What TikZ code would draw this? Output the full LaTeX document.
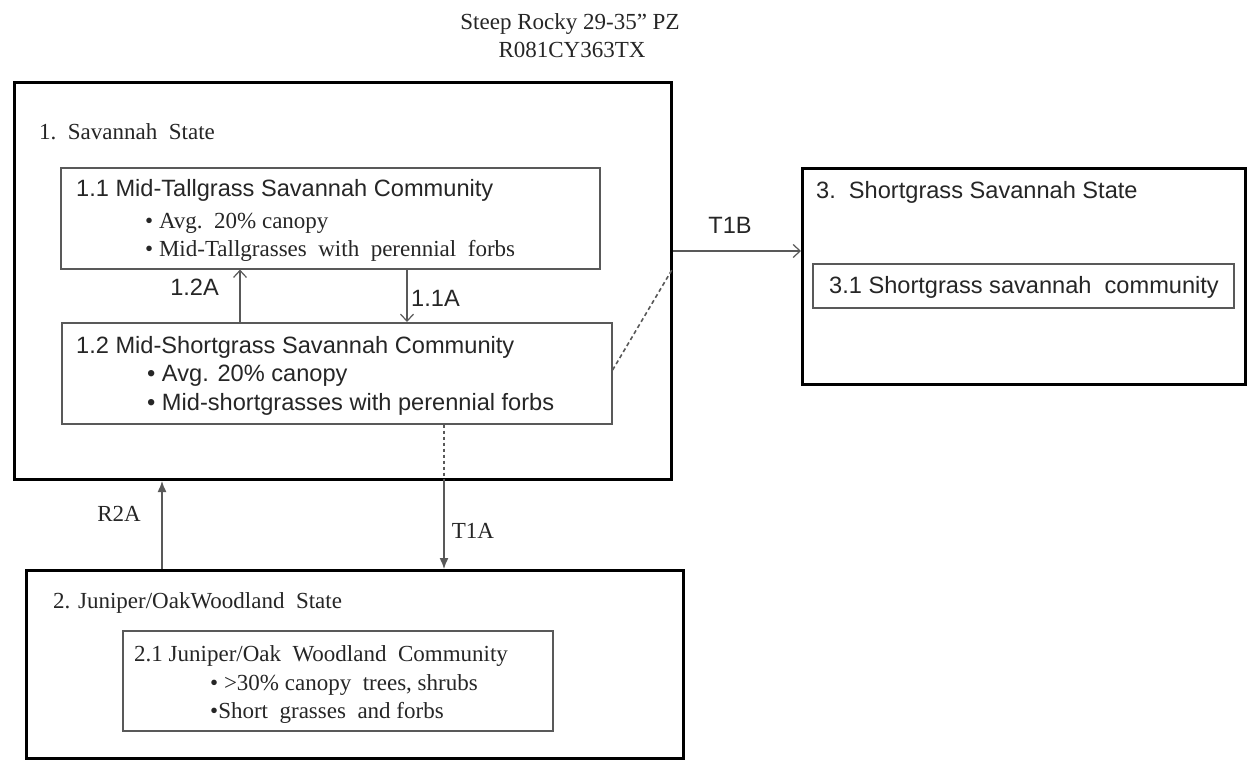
\documentclass[tikz,border=0pt]{standalone}
\usepackage{fontspec}
\setmainfont{Liberation Serif}
\newfontfamily\arialf{Liberation Sans}
\usetikzlibrary{arrows.meta}
\definecolor{ink}{gray}{0.15}
\definecolor{frame}{gray}{0.35}
\begin{document}
\begin{tikzpicture}[x=1pt,y=-1pt,
  outerbox/.style={draw=black, line width=3pt, anchor=north west, inner sep=0pt},
  innerbox/.style={draw=frame, line width=1.6pt, anchor=north west, inner sep=0pt},
  serif/.style={text=ink, font=\fontsize{23}{27}\selectfont, inner sep=0pt},
  sans/.style={text=ink, font=\arialf\fontsize{23.6}{27}\selectfont, inner sep=0pt},
  openarrow/.style={draw=frame, line width=1.4pt, -{Straight Barb[length=7pt,width=13pt,line width=1.2pt]}},
  fillarrow/.style={draw=frame, line width=1.4pt, -{Latex[length=11pt,width=9pt]}},
  dotline/.style={draw=frame, line width=1.6pt, dash pattern=on 3pt off 3pt},
  dashline/.style={draw=frame, line width=1.6pt, dash pattern=on 4pt off 3pt}]
\useasboundingbox (0,0) rectangle (1249,760);
\fill[white] (0,0) rectangle (1249,760);

% title
\node[serif, anchor=base] (title1) at (570,30) {Steep Rocky 29-35” PZ};
\node[serif, anchor=base] (title2) at (572,58) {R081CY363TX};

% boxes
\node[outerbox, minimum width=657pt, minimum height=397pt] (s1) at (13,81) {};
\node[outerbox, minimum width=657pt, minimum height=188pt] (s2) at (25,569) {};
\node[outerbox, minimum width=443pt, minimum height=216pt] (s3) at (801,167) {};
\node[innerbox, minimum width=539pt, minimum height=101pt] (b11) at (60,167) {};
\node[innerbox, minimum width=550pt, minimum height=101pt] (b12) at (61,322) {};
\node[innerbox, minimum width=421pt, minimum height=44pt] (b31) at (812,263) {};
\node[innerbox, minimum width=430pt, minimum height=100pt] (b21) at (122,630) {};

% texts state 1
\node[serif, anchor=base west] (t1) at (39,139) {1.\ \ Savannah\ \ State};
\node[sans, anchor=base west] (t11) at (76,196) {1.1 Mid-Tallgrass Savannah Community};
\node[serif, anchor=base west] (t11a) at (145,228) {• Avg.\ \ 20\% canopy};
\node[serif, anchor=base west] (t11b) at (145,256) {• Mid-Tallgrasses\ \ with\ \ perennial\ \ forbs};
\node[sans, anchor=base west] (t12) at (76,353) {1.2 Mid-Shortgrass Savannah Community};
\node[sans, anchor=base west] (t12a) at (147,381) {• Avg. 20\% canopy};
\node[sans, anchor=base west] (t12b) at (147,410) {• Mid-shortgrasses with perennial forbs};

% texts state 3
\node[sans, anchor=base west] (t3) at (816,198) {3.\ \ Shortgrass\ Savannah\ State};
\node[sans, anchor=base west] (t31) at (829,293) {3.1 Shortgrass savannah\ \ community};

% texts state 2
\node[serif, anchor=base west] (t2) at (53,608) {2. Juniper/OakWoodland\ \ State};
\node[serif, anchor=base west] (t21) at (134,661) {2.1 Juniper/Oak\ \ Woodland\ \ Community};
\node[serif, anchor=base west] (t21a) at (210,690) {• >30\% canopy\ \ trees, shrubs};
\node[serif, anchor=base west] (t21b) at (210,718) {•Short\ \ grasses\ \ and forbs};

% helper coordinates
\coordinate (x240) at (240,0);
\coordinate (x407) at (407,0);
\coordinate (x444) at (444,0);
\coordinate (x162) at (162,0);
\coordinate (y251) at (0,251);
\coordinate (y370) at (0,370);
\coordinate (y268) at (0,268);

% connectors
\draw[openarrow] (x240 |- b12.north) -- (x240 |- b11.south);
\draw[openarrow] (x407 |- b11.south) -- (x407 |- b12.north);
\draw[openarrow] (s1.east |- y251) -- (s3.west |- y251);
\draw[dashline] (b12.east |- y370) -- (s1.east |- y268);
\draw[dotline] (x444 |- b12.south) -- (x444 |- s1.south);
\draw[fillarrow] (x444 |- s1.south) -- (x444 |- s2.north);
\draw[fillarrow] (x162 |- s2.north) -- (x162 |- s1.south);

% connector labels
\node[sans, anchor=base east] (l12a) at (219,295) {1.2A};
\node[sans, anchor=base west] (l11a) at (411,306) {1.1A};
\node[sans, anchor=base] (lt1b) at (730,233) {T1B};
\node[serif, anchor=base] (lt1a) at (473,538) {T1A};
\node[serif, anchor=base] (lr2a) at (119,521) {R2A};
\end{tikzpicture}
\end{document}
